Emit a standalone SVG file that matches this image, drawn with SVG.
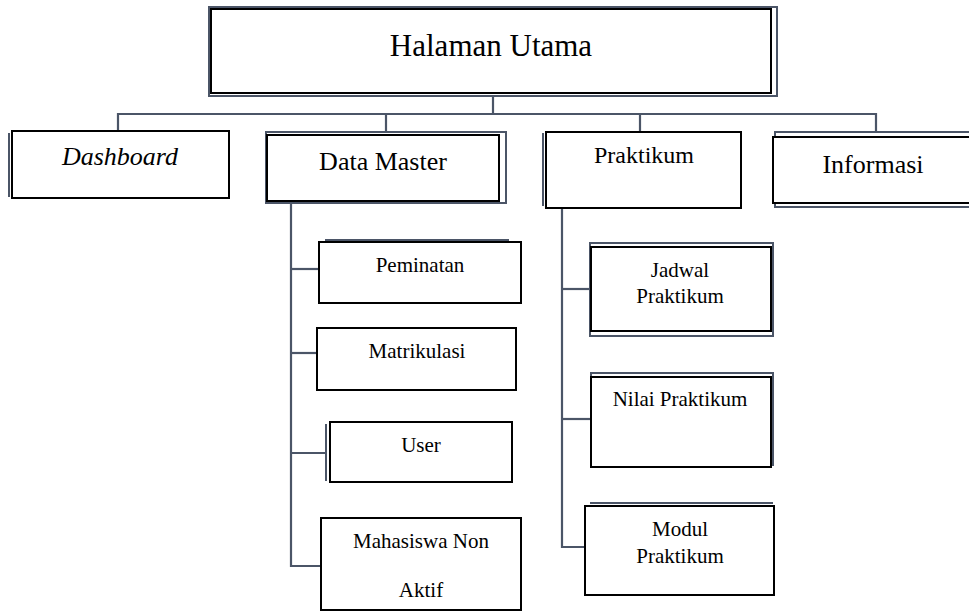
<svg xmlns="http://www.w3.org/2000/svg" width="969" height="613" viewBox="0 0 969 613">
<style>
.g{fill:none;stroke:#4b5567;stroke-width:2}
.b{fill:#fff;stroke:#000;stroke-width:2}
.c{fill:none;stroke:#4b5567;stroke-width:2.2}
</style>
<rect width="969" height="613" fill="#fff"/>
<g id="connectors">
<line class="c" x1="493" y1="96" x2="493" y2="114"/>
<polyline class="c" points="118,131 118,114 876,114 876,132"/>
<line class="c" x1="386" y1="114" x2="386" y2="132"/>
<line class="c" x1="640" y1="114" x2="640" y2="132"/>
<polyline class="c" points="291,203 291,566 321,566"/>
<line class="c" x1="291" y1="269" x2="319" y2="269"/>
<line class="c" x1="291" y1="353" x2="317" y2="353"/>
<line class="c" x1="291" y1="453" x2="326" y2="453"/>
<polyline class="c" points="562,208 562,547 585,547"/>
<line class="c" x1="562" y1="289" x2="591" y2="289"/>
<line class="c" x1="562" y1="419" x2="591" y2="419"/>
</g>
<g id="halaman-utama">
<rect class="g" x="209" y="7" width="568" height="89"/>
<rect class="b" x="211" y="9" width="560" height="84"/>
<text x="491" y="56" font-family="Liberation Serif, Tinos, Times New Roman, Times, serif" font-size="31" text-anchor="middle">Halaman Utama</text>
</g>
<g id="dashboard">
<line class="g" x1="9" y1="133" x2="9" y2="197"/>
<rect class="b" x="12" y="131" width="217" height="67"/>
<text x="120" y="165" font-family="Liberation Serif, Tinos, Times New Roman, Times, serif" font-size="26" font-style="italic" text-anchor="middle">Dashboard</text>
</g>
<g id="data-master">
<rect class="g" x="266" y="132" width="240" height="71"/>
<rect class="b" x="267" y="135" width="232" height="66"/>
<text x="383" y="170" font-family="Liberation Serif, Tinos, Times New Roman, Times, serif" font-size="26" text-anchor="middle">Data Master</text>
</g>
<g id="praktikum">
<line class="g" x1="543" y1="133" x2="543" y2="206"/>
<rect class="b" x="546" y="132" width="195" height="76"/>
<text x="644" y="163" font-family="Liberation Serif, Tinos, Times New Roman, Times, serif" font-size="24" text-anchor="middle">Praktikum</text>
</g>
<g id="informasi">
<rect class="g" x="775" y="132" width="210" height="75"/>
<rect class="b" x="773" y="137" width="210" height="66"/>
<text x="873" y="173" font-family="Liberation Serif, Tinos, Times New Roman, Times, serif" font-size="26" text-anchor="middle">Informasi</text>
</g>
<g id="peminatan">
<line class="g" x1="325" y1="240" x2="509" y2="240"/>
<rect class="b" x="319" y="242" width="202" height="61"/>
<text x="420" y="272" font-family="Liberation Serif, Tinos, Times New Roman, Times, serif" font-size="21" text-anchor="middle">Peminatan</text>
</g>
<g id="matrikulasi">
<rect class="b" x="317" y="328" width="199" height="62"/>
<text x="417" y="358" font-family="Liberation Serif, Tinos, Times New Roman, Times, serif" font-size="21" text-anchor="middle">Matrikulasi</text>
</g>
<g id="user">
<line class="g" x1="326" y1="424" x2="326" y2="481"/>
<rect class="b" x="330" y="422" width="182" height="60"/>
<text x="421" y="452" font-family="Liberation Serif, Tinos, Times New Roman, Times, serif" font-size="21" text-anchor="middle">User</text>
</g>
<g id="mahasiswa-non-aktif">
<rect class="b" x="321" y="518" width="200" height="92"/>
<text x="421" y="548" font-family="Liberation Serif, Tinos, Times New Roman, Times, serif" font-size="21" text-anchor="middle">Mahasiswa Non</text>
<text x="421" y="597" font-family="Liberation Serif, Tinos, Times New Roman, Times, serif" font-size="21" text-anchor="middle">Aktif</text>
</g>
<g id="jadwal-praktikum">
<rect class="g" x="590" y="243" width="183" height="93"/>
<rect class="b" x="591" y="247" width="180" height="84"/>
<text x="680" y="277" font-family="Liberation Serif, Tinos, Times New Roman, Times, serif" font-size="21" text-anchor="middle">Jadwal</text>
<text x="680" y="303" font-family="Liberation Serif, Tinos, Times New Roman, Times, serif" font-size="21" text-anchor="middle">Praktikum</text>
</g>
<g id="nilai-praktikum">
<rect class="g" x="591" y="373" width="182" height="92"/>
<rect class="b" x="591" y="377" width="180" height="90"/>
<text x="680" y="406" font-family="Liberation Serif, Tinos, Times New Roman, Times, serif" font-size="21" text-anchor="middle">Nilai Praktikum</text>
</g>
<g id="modul-praktikum">
<line class="g" x1="590" y1="503" x2="773" y2="503"/>
<rect class="b" x="585" y="506" width="189" height="89"/>
<text x="680" y="536" font-family="Liberation Serif, Tinos, Times New Roman, Times, serif" font-size="21" text-anchor="middle">Modul</text>
<text x="680" y="563" font-family="Liberation Serif, Tinos, Times New Roman, Times, serif" font-size="21" text-anchor="middle">Praktikum</text>
</g>
</svg>
